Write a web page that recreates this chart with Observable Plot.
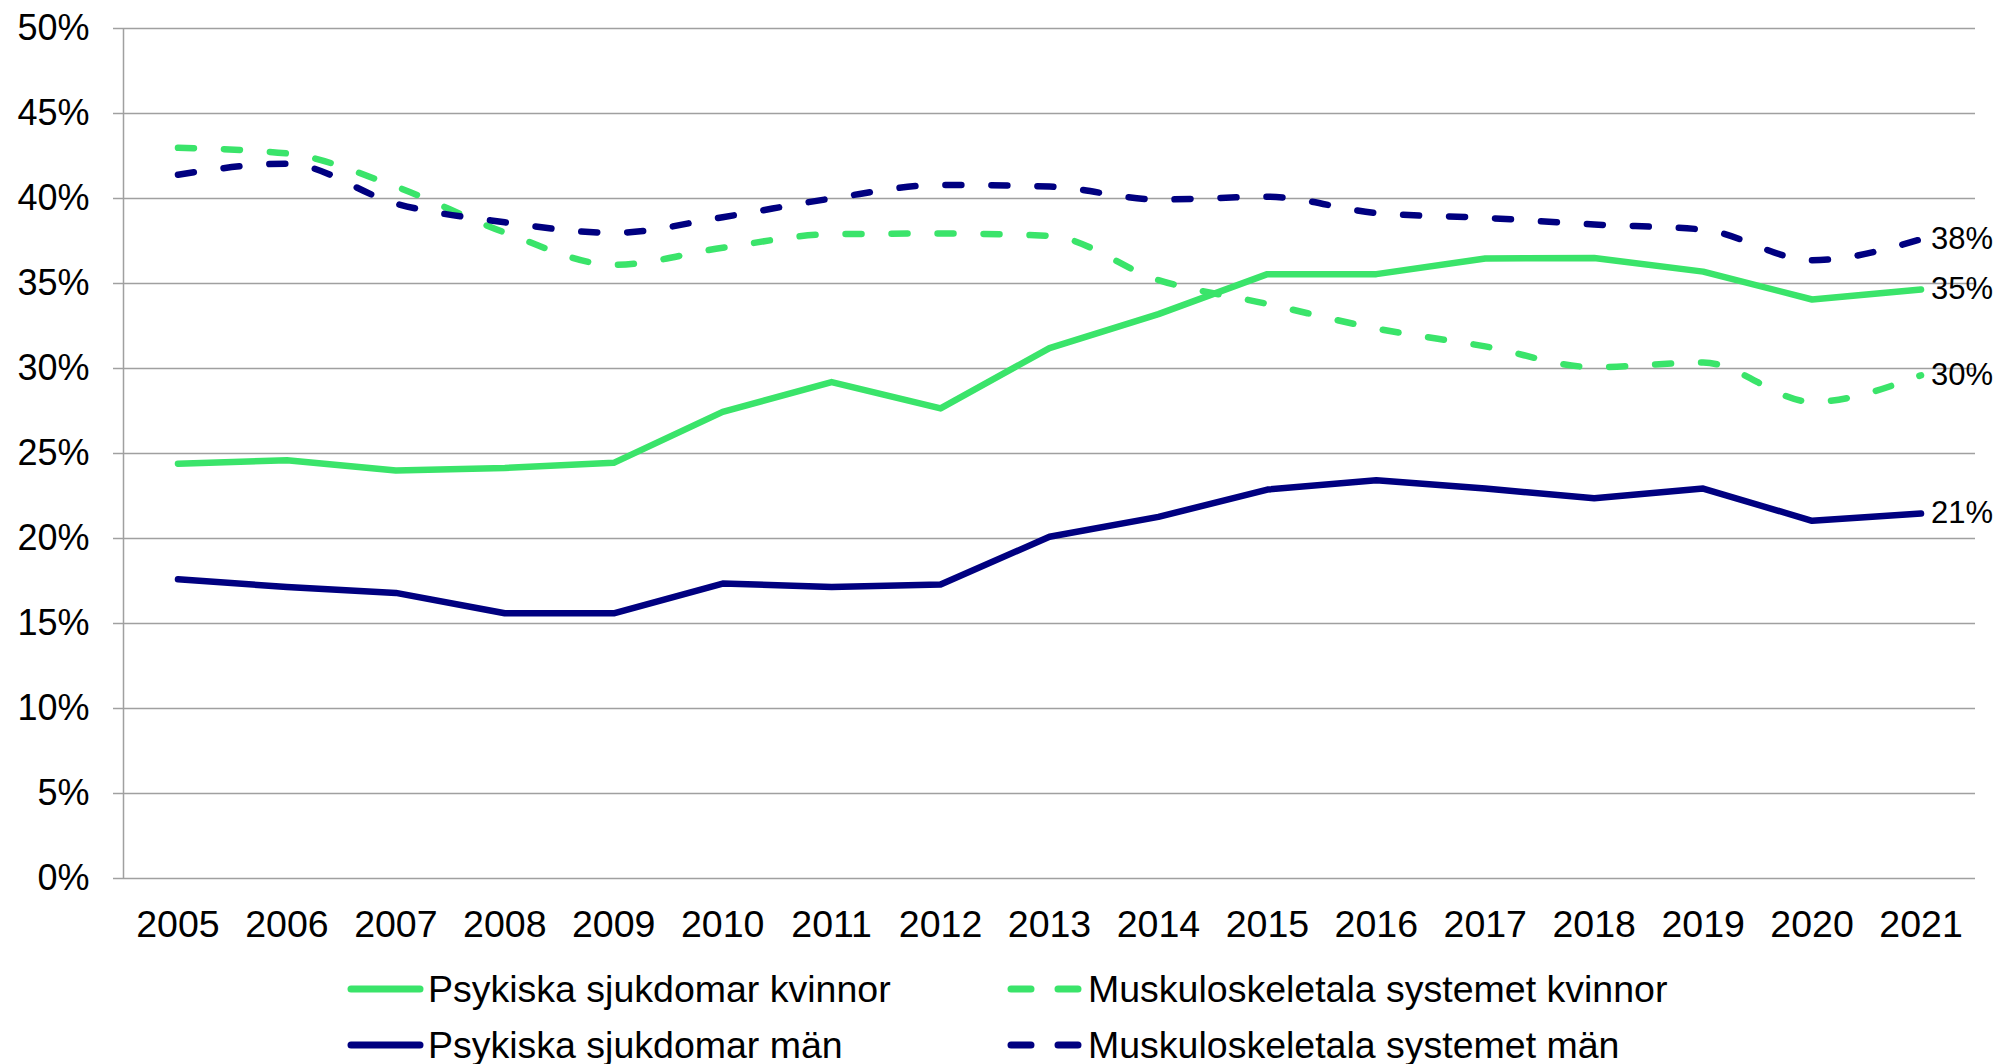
<!DOCTYPE html>
<html>
<head>
<meta charset="utf-8">
<script src="https://cdn.jsdelivr.net/npm/d3@7"></script>
<script src="https://cdn.jsdelivr.net/npm/@observablehq/plot@0.6"></script>
<style>
  html, body { margin: 0; padding: 0; background: #fff; }
  body { width: 1999px; height: 1064px; overflow: hidden; font-family: "Liberation Sans", Arial, sans-serif; }
  #legend { position: relative; width: 1999px; height: 114px; }
  .item { position: absolute; display: flex; align-items: center; font-size: 37.5px; color: #000; white-space: nowrap; height: 56px; }
  .item svg { display: block; margin-right: 2px; }
</style>
</head>
<body>
<div id="chart"></div>
<div id="legend"></div>
<script>
const years = [2005, 2006, 2007, 2008, 2009, 2010, 2011, 2012, 2013, 2014, 2015, 2016, 2017, 2018, 2019, 2020, 2021];
const psykKvinnor = [24.4, 24.6, 24.0, 24.15, 24.45, 27.45, 29.2, 27.65, 31.2, 33.2, 35.55, 35.55, 36.47, 36.5, 35.7, 34.06, 34.65];
const psykMan     = [17.6, 17.15, 16.8, 15.6, 15.6, 17.35, 17.15, 17.3, 20.1, 21.27, 22.88, 23.43, 22.94, 22.37, 22.94, 21.04, 21.47];
const muskKvinnor = [42.98, 42.65, 40.7, 38.0, 36.1, 37.1, 37.9, 37.94, 37.8, 35.2, 33.8, 32.35, 31.3, 30.08, 30.35, 28.04, 29.6];
const muskMan     = [41.4, 42.05, 39.7, 38.6, 37.98, 38.9, 40.0, 40.8, 40.7, 39.94, 40.1, 39.15, 38.86, 38.47, 38.17, 36.37, 37.6];
const yTicks = [0, 0.05, 0.10, 0.15, 0.20, 0.25, 0.30, 0.35, 0.40, 0.45, 0.50];

const GREEN = "#3ae46a";
const NAVY = "#000080";

const seriesDefs = [
  {name: "Psykiska sjukdomar kvinnor", values: psykKvinnor, color: GREEN, dashed: false},
  {name: "Muskuloskeletala systemet kvinnor", values: muskKvinnor, color: GREEN, dashed: true},
  {name: "Psykiska sjukdomar män", values: psykMan, color: NAVY, dashed: false},
  {name: "Muskuloskeletala systemet män", values: muskMan, color: NAVY, dashed: true}
];

const rows = seriesDefs.map(s => years.map((yr, i) => ({year: yr, value: s.values[i] / 100, series: s.name})));
const lastPoints = seriesDefs.map((s, k) => rows[k][rows[k].length - 1]);
const pct = d3.format(".0%");

const marks = [
  Plot.ruleY(yTicks, {stroke: "#a0a0a0", strokeWidth: 1.5}),
  Plot.ruleX([2004.5], {stroke: "#a0a0a0", strokeWidth: 1.5}),
  Plot.axisY({ticks: yTicks, tickFormat: pct, tickSize: 10, tickPadding: 24, stroke: "#a0a0a0", strokeWidth: 1.5, fontSize: 36, fill: "#000", label: null}),
  Plot.axisX({ticks: years, tickFormat: d => String(d), tickSize: 0, tickPadding: 32, fontSize: 37.5, fill: "#000", label: null})
];
seriesDefs.forEach((s, k) => {
  marks.push(Plot.line(rows[k], {
    x: "year", y: "value",
    stroke: s.color, strokeWidth: 6.5,
    strokeLinecap: "round", strokeLinejoin: "round",
    strokeDasharray: s.dashed ? "16,30" : null,
    curve: s.dashed ? "monotone-x" : "linear"
  }));
});
marks.push(Plot.text(lastPoints, {x: "year", y: "value", text: d => pct(d.value), textAnchor: "start", dx: 10, fontSize: 31, fill: "#000"}));

const chart = Plot.plot({
  width: 1999,
  height: 950,
  marginLeft: 123,
  marginRight: 24,
  marginTop: 28,
  marginBottom: 72,
  style: {fontFamily: "'Liberation Sans', Arial, sans-serif", background: "#fff", overflow: "visible"},
  x: {domain: [2004.5, 2021.5], axis: null},
  y: {domain: [0, 0.5], axis: null},
  marks
});
document.getElementById("chart").appendChild(chart);

// Legend
const legendPos = [
  {left: 346, top: 11},
  {left: 1006, top: 11},
  {left: 346, top: 67},
  {left: 1006, top: 67}
];
const legend = document.getElementById("legend");
seriesDefs.forEach((s, k) => {
  const div = document.createElement("div");
  div.className = "item";
  div.style.left = legendPos[k].left + "px";
  div.style.top = legendPos[k].top + "px";
  const line = s.dashed
    ? `<line x1="5" y1="8" x2="77" y2="8" stroke="${s.color}" stroke-width="7" stroke-linecap="round" stroke-dasharray="20,27"/>`
    : `<line x1="5" y1="8" x2="74" y2="8" stroke="${s.color}" stroke-width="7" stroke-linecap="round"/>`;
  div.innerHTML = `<svg width="80" height="16">${line}</svg><span>${s.name}</span>`;
  legend.appendChild(div);
});
</script>
</body>
</html>
